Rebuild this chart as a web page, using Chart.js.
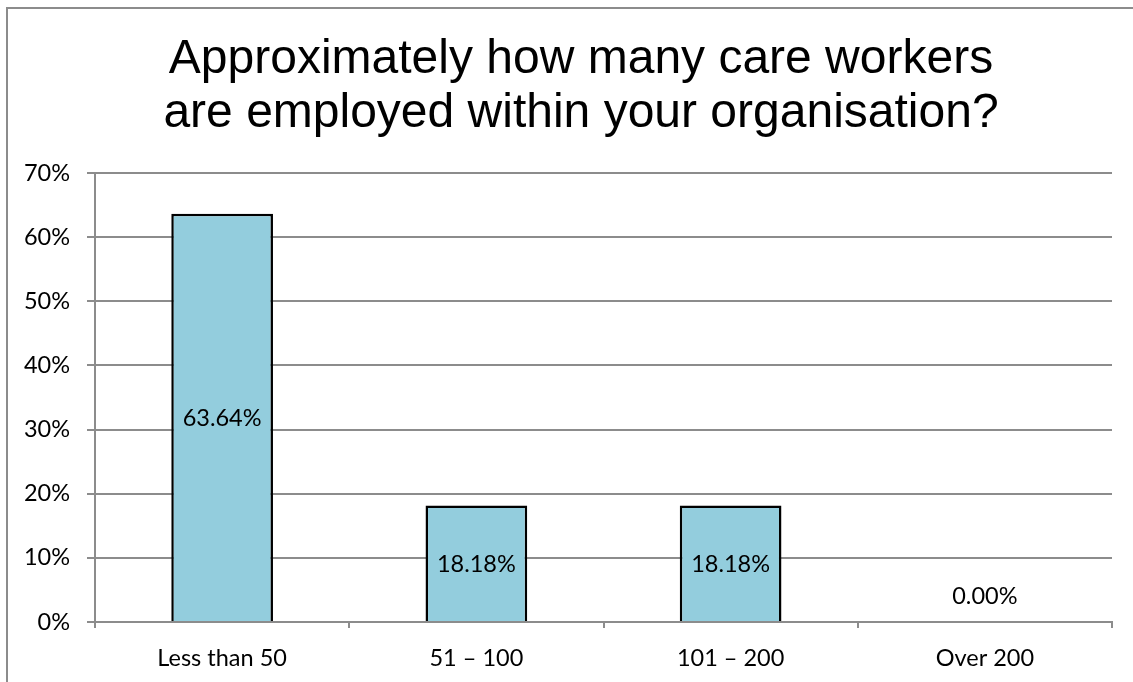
<!DOCTYPE html>
<html>
<head>
<meta charset="utf-8">
<script src="https://cdn.jsdelivr.net/npm/chart.js@4.4.1/dist/chart.umd.min.js"></script>
<style>
  html, body { margin: 0; padding: 0; background: #fff; overflow: hidden; }
  #frame {
    position: absolute; left: 6px; top: 7px; width: 1200px; height: 800px;
    border: 2px solid #8c8c8c; box-sizing: border-box;
  }
  #title {
    position: absolute; left: 81px; top: 30px; width: 1000px; text-align: center;
    font-family: "Liberation Sans", Arial, sans-serif; font-size: 48px; line-height: 54px; color: #000;
  }
  #wrap { position: absolute; left: 0; top: 0; width: 1133px; height: 682px; }
</style>
</head>
<body>
<div id="frame"></div>
<div id="wrap"><canvas id="chart" width="1133" height="682"></canvas></div>
<div id="title"></div>
<script>
// chart data
const categories = ['Less than 50', '51 \u2013 100', '101 \u2013 200', 'Over 200'];
const shares = [63.64, 18.18, 18.18, 0.00];
const titleLines = ['Approximately how many care workers', 'are employed within your organisation?'];

const LABEL_FONT = 'Lato, "Open Sans", sans-serif';

document.getElementById('title').innerHTML = titleLines.join('<br>');

// draws the value labels in the middle of each bar like Excel does
const barLabels = {
  id: 'barLabels',
  afterDatasetsDraw(chart) {
    const { ctx } = chart;
    const meta = chart.getDatasetMeta(0);
    ctx.save();
    ctx.font = '23.5px ' + LABEL_FONT;
    ctx.fillStyle = '#000';
    ctx.textAlign = 'center';
    ctx.textBaseline = 'middle';
    meta.data.forEach((bar, i) => {
      const mid = (bar.y + bar.base) / 2;
      const y = Math.min(mid + 1, bar.base - 26);
      ctx.fillText(shares[i].toFixed(2) + '%', bar.x, y);
    });
    ctx.restore();
  }
};

new Chart(document.getElementById('chart'), {
  type: 'bar',
  data: {
    labels: categories,
    datasets: [{
      data: shares,
      backgroundColor: '#93CDDD',
      borderColor: '#000',
      borderWidth: 2.5,
      barPercentage: 0.4,
      categoryPercentage: 1.0,
    }],
  },
  options: {
    responsive: false,
    animation: false,
    devicePixelRatio: 1,
    layout: { padding: { left: 7, right: 21, top: 173, bottom: 0 } },
    plugins: {
      legend: { display: false },
      tooltip: { enabled: false },
      title: { display: false },
    },
    scales: {
      x: {
        grid: { display: true, drawOnChartArea: false, drawTicks: true, tickLength: 6, color: '#8c8c8c', lineWidth: 2, offset: true },
        border: { display: true, color: '#8c8c8c', width: 2 },
        ticks: { color: '#000', font: { family: LABEL_FONT, size: 23.5 }, padding: 16 },
        afterFit(scale) { scale.height = 60; },
      },
      y: {
        min: 0,
        max: 70,
        ticks: {
          stepSize: 10,
          color: '#000',
          font: { family: LABEL_FONT, size: 23.5 },
          padding: 17,
          callback: v => v + '%',
        },
        grid: { color: '#8c8c8c', lineWidth: 2, tickLength: 8 },
        border: { display: true, color: '#8c8c8c', width: 2 },
        afterFit(scale) { scale.width = 88; },
      },
    },
  },
  plugins: [barLabels],
});
</script>
</body>
</html>
